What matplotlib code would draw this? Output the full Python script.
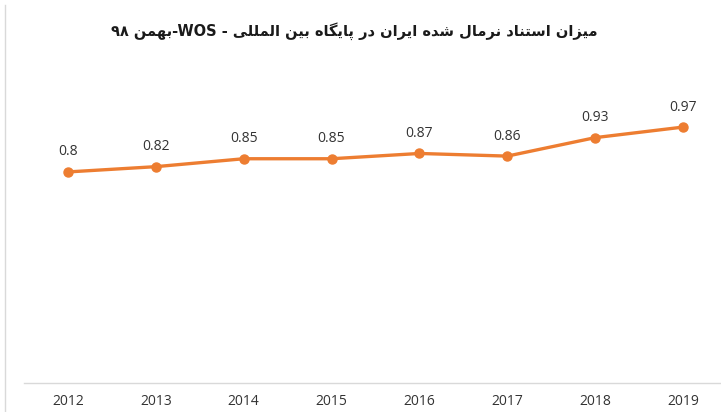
import matplotlib
matplotlib.use("Agg")
import matplotlib.pyplot as plt
from matplotlib.lines import Line2D

years = ["2012", "2013", "2014", "2015", "2016", "2017", "2018", "2019"]
values = [0.8, 0.82, 0.85, 0.85, 0.87, 0.86, 0.93, 0.97]
title_fa = "میزان استناد نرمال شده ایران در پایگاه بین المللی"
title_month = "بهمن"
title_src = "WOS"
title_year = "۹۸"

# presentation forms: isolated, final, initial, medial
FORMS = {
    "ا": ("\uFE8D", "\uFE8E"),
    "د": ("\uFEA9", "\uFEAA"),
    "ر": ("\uFEAD", "\uFEAE"),
    "ز": ("\uFEAF", "\uFEB0"),
    "ب": ("\uFE8F", "\uFE90", "\uFE91", "\uFE92"),
    "پ": ("\uFB56", "\uFB57", "\uFB58", "\uFB59"),
    "ت": ("\uFE95", "\uFE96", "\uFE97", "\uFE98"),
    "س": ("\uFEB1", "\uFEB2", "\uFEB3", "\uFEB4"),
    "ش": ("\uFEB5", "\uFEB6", "\uFEB7", "\uFEB8"),
    "گ": ("\uFB92", "\uFB93", "\uFB94", "\uFB95"),
    "ل": ("\uFEDD", "\uFEDE", "\uFEDF", "\uFEE0"),
    "م": ("\uFEE1", "\uFEE2", "\uFEE3", "\uFEE4"),
    "ن": ("\uFEE5", "\uFEE6", "\uFEE7", "\uFEE8"),
    "ه": ("\uFEE9", "\uFEEA", "\uFEEB", "\uFEEC"),
    "ی": ("\uFBFC", "\uFBFD", "\uFBFE", "\uFBFF"),
}


def rtl(text):
    # crude shaping + visual reordering for a pure Persian string
    out = []
    for i, ch in enumerate(text):
        if ch not in FORMS:
            out.append(ch)
            continue
        prev = text[i - 1] if i > 0 else ""
        nxt = text[i + 1] if i + 1 < len(text) else ""
        jp = prev in FORMS and len(FORMS[prev]) == 4
        jn = len(FORMS[ch]) == 4 and nxt in FORMS
        f = FORMS[ch]
        if jp and jn:
            out.append(f[3])
        elif jp:
            out.append(f[1])
        elif jn:
            out.append(f[2])
        else:
            out.append(f[0])
    return "".join(out[::-1])


plt.rcParams["font.family"] = ["Open Sans", "DejaVu Sans"]

fig = plt.figure(figsize=(7.21, 4.12), dpi=100)
ax = fig.add_axes([24 / 721, 29 / 412, 703 / 721, 316.6 / 412])

x = list(range(len(years)))
ax.plot(x, values, color="#ED7D31", lw=2.4, marker="o", markersize=6.5,
        solid_capstyle="round", clip_on=False)
for xi, v in zip(x, values):
    ax.annotate(f"{v:g}", (xi, v), xytext=(0, 9), textcoords="offset points",
                ha="center", va="bottom", fontsize=10, color="#333333")

ax.set_xlim(-0.5, 7.5)
ax.set_ylim(0, 1.2)
ax.set_xticks(x)
ax.set_xticklabels(years, fontsize=10, color="#333333")
ax.set_yticks([])
for s in ["top", "right", "left"]:
    ax.spines[s].set_visible(False)
ax.spines["bottom"].set_color("#d9d9d9")
ax.spines["bottom"].set_linewidth(1)
ax.tick_params(axis="x", length=0, pad=8)

title = title_year + " " + rtl(title_month) + "-" + title_src + " - " + rtl(title_fa)
fig.text(354 / 721, 1 - 31 / 412, title, ha="center", va="center",
         fontsize=10.5, fontweight="bold", color="#1a1a1a", family="DejaVu Sans")

fig.add_artist(Line2D([5 / 721, 5 / 721], [0, 1 - 5 / 412], color="#d9d9d9", lw=1))

fig.savefig("out.png", dpi=100)
